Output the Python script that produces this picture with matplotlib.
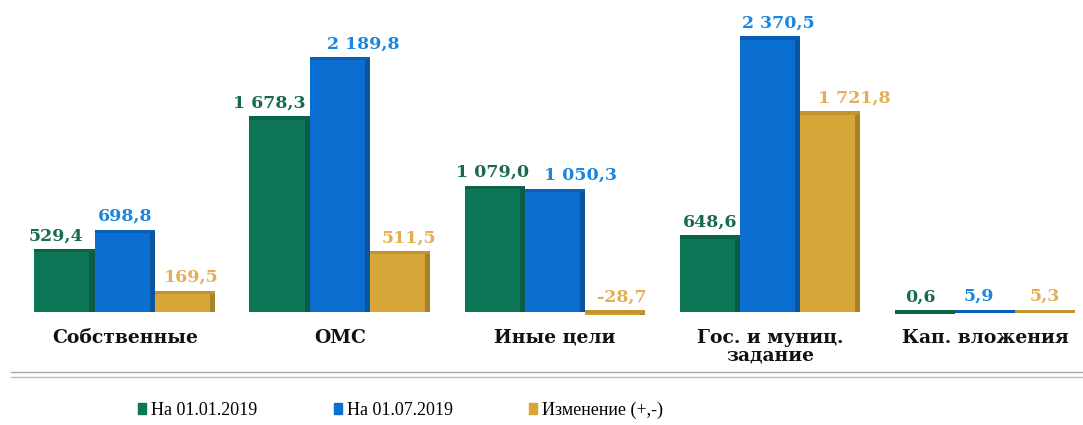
import numpy as np
from matplotlib import pyplot as plt
from matplotlib.lines import Line2D
from matplotlib.patches import Patch

categories = ['Собственные', 'ОМС', 'Иные цели', 'Гос. и муниц.\nзадание', 'Кап. вложения']
series_names = ['На 01.01.2019', 'На 01.07.2019', 'Изменение (+,-)']
jan_values = [529.4, 1678.3, 1079.0, 648.6, 0.6]
jul_values = [698.8, 2189.8, 1050.3, 2370.5, 5.9]
change_values = [169.5, 511.5, -28.7, 1721.8, 5.3]
jan_labels = ['529,4', '1 678,3', '1 079,0', '648,6', '0,6']
jul_labels = ['698,8', '2 189,8', '1 050,3', '2 370,5', '5,9']
change_labels = ['169,5', '511,5', '-28,7', '1 721,8', '5,3']

bar_colors = ['#0d7656', '#0b6fd2', '#d6a638']
side_colors = ['#0a5c43', '#0a559e', '#a8822a']
top_colors = ['#0a6449', '#0a5fb4', '#c29430']
text_colors = ['#17694f', '#1a86e0', '#e3ad55']

plt.rcParams['font.family'] = ['Liberation Serif', 'DejaVu Serif']

fig = plt.figure(figsize=(10.83, 4.25), dpi=100)
ax = fig.add_axes([0.0, 0.2235, 1.0, 0.7765])

x = np.arange(len(categories))
width = 0.28
offsets = [-width, 0.0, width]
all_values = [jan_values, jul_values, change_values]
all_labels = [jan_labels, jul_labels, change_labels]
# label nudges so neighbouring numbers do not collide
label_dx = [[-0.04, -0.05, -0.01, 0.0, -0.02],
            [0.0, 0.11, 0.12, 0.04, -0.03],
            [0.03, 0.04, 0.03, 0.11, 0.0]]

for i in range(3):
    vals = np.array(all_values[i])
    ax.bar(x + offsets[i], vals, width, color=bar_colors[i], zorder=2)
    # thin darker side and top face to imitate the 3d look
    ax.bar(x + offsets[i] + width / 2 - 0.012, vals, 0.024, color=side_colors[i], zorder=3)
    ax.bar(x + offsets[i], 28, width, bottom=np.maximum(vals, 0) - 14,
           color=top_colors[i], zorder=3)
    for j, v in enumerate(vals):
        top = max(v, 0)
        ax.text(x[j] + offsets[i] + label_dx[i][j], top + 130, all_labels[i][j],
                ha='center', va='center', color=text_colors[i],
                fontsize=12.5, fontweight='bold', family='DejaVu Serif')

for j, name in enumerate(categories):
    ax.text(x[j], -145, name, ha='center', va='top', fontsize=13.5,
            fontweight='bold', color='#111111', linespacing=0.95,
            family='DejaVu Serif')

ax.set_xlim(-0.58, 4.456)
ax.set_ylim(-156, 2699)
ax.axis('off')

# floor frame lines
fig.add_artist(Line2D([0.01, 1.0], [0.125, 0.125], color='#aaaaaa', lw=1.0))
fig.add_artist(Line2D([0.01, 1.0], [0.112, 0.112], color='#bbbbbb', lw=1.0))

handles = [Patch(color=c) for c in bar_colors]
fig.legend(handles, series_names, loc='center', bbox_to_anchor=(0.37, 0.035),
           ncol=3, frameon=False, fontsize=13, handlelength=0.45, handleheight=0.55,
           handletextpad=0.3, columnspacing=4.2)

fig.savefig('out.png', dpi=100)
